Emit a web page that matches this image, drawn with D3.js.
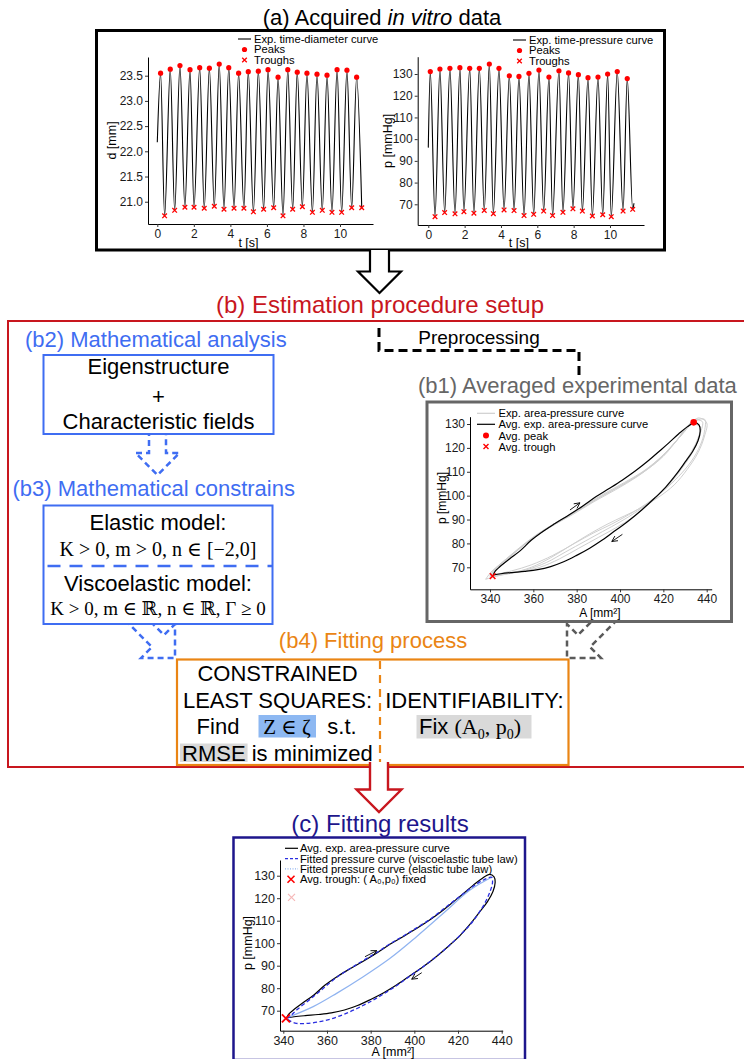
<!DOCTYPE html>
<html><head><meta charset="utf-8">
<script src="https://cdn.jsdelivr.net/npm/d3@7"></script>
<style>body{margin:0;background:#fff}svg{display:block}</style>
</head><body><svg id="fig" width="744" height="1059"></svg>
<script>
// ---------------- DATA ----------------
const diamStart = [0.0, 22.18];
const diamPeaks = [[0.18,23.55],[0.71,23.63],[1.24,23.70],[1.79,23.62],[2.32,23.66],[2.85,23.65],[3.39,23.73],[3.91,23.66],[4.45,23.55],[4.98,23.58],[5.53,23.59],[6.06,23.62],[6.61,23.47],[7.14,23.62],[7.66,23.57],[8.19,23.55],[8.74,23.53],[9.29,23.51],[9.84,23.62],[10.38,23.61],[10.91,23.47]];
const diamTroughs = [[0.40,20.72],[0.95,20.83],[1.51,20.89],[2.01,20.89],[2.57,20.87],[3.12,20.91],[3.65,20.85],[4.20,20.87],[4.74,20.87],[5.26,20.80],[5.82,20.85],[6.37,20.88],[6.88,20.72],[7.41,20.85],[7.94,20.90],[8.49,20.79],[9.03,20.83],[9.56,20.79],[10.09,20.79],[10.64,20.88],[11.19,20.88]];
const presStart = [0.0, 96.1];
const presEnd = [11.32, 70.5];
const presPeaks = [[0.11,131.1],[0.64,132.3],[1.19,132.6],[1.74,132.9],[2.28,132.6],[2.81,132.6],[3.36,134.6],[3.89,132.6],[4.46,129.2],[4.99,128.9],[5.54,130.3],[6.09,131.8],[6.64,128.6],[7.19,131.5],[7.72,130.5],[8.26,129.7],[8.79,128.3],[9.34,128.6],[9.87,130.0],[10.40,131.1],[10.95,127.9]];
const presTroughs = [[0.37,64.3],[0.90,66.2],[1.47,65.6],[1.96,66.6],[2.51,65.9],[3.08,67.2],[3.58,65.7],[4.17,67.4],[4.72,67.1],[5.27,64.8],[5.80,65.4],[6.35,66.9],[6.84,64.8],[7.41,66.3],[7.96,67.9],[8.48,66.9],[9.03,64.6],[9.60,65.2],[10.07,64.3],[10.72,66.9],[11.25,67.7]];

const timeTicks = [0,2,4,6,8,10];
const diamTicks = [21.0,21.5,22.0,22.5,23.0,23.5];
const presTicks = [70,80,90,100,110,120,130];
const areaTicks = [340,360,380,400,420,440];

const avgLoop = [[341.5,66.8],[342.5,68.5],[344.5,70.2],[349,73.5],[354,77],[359,81.3],[364.4,85],[370,88.3],[376.6,92],[383,95.8],[389,99.6],[395,103],[401,106.5],[407,110.3],[413.3,114.8],[418,118.5],[422.4,122],[427,125.8],[431,128.8],[434.5,130.6],[436.5,129.5],[437,127],[436,123],[433.5,118.5],[430,114],[426,109],[421,103.5],[416,99],[410,94],[404,89.5],[398,85.5],[392,81.5],[386,78],[380,75],[374,72.3],[368,70.3],[362,69],[356,68.3],[350,67.8],[345,67.3],[341.5,66.8]];
const expLoop1 = [[340,66],[342,69],[350,75],[360,82.5],[370,88.5],[380,93.5],[390,99],[400,104],[410,109.5],[420,117],[428,125],[434,131.5],[438,131],[437,126],[434,119],[429,112],[423,105],[416,99],[408,93.5],[400,89],[392,85],[384,81],[375,76.5],[366,72],[357,69],[348,67.3],[340,66]];
const expLoop2 = [[341,67],[344,70.5],[352,77],[362,84],[372,89.5],[382,95],[392,100.5],[402,105.5],[412,111],[421,118],[429,126],[436,132.5],[440,130.5],[439,125],[436,118],[431,111],[425,104.5],[418,99.5],[410,95],[402,91.5],[394,88],[386,84],[377,79],[368,74],[359,70],[349,67.5],[341,67]];
const expLoop3 = [[338,65],[341,68.5],[348,73.5],[358,81],[368,87],[378,92],[388,97.5],[398,102.5],[408,108],[418,115],[426,123],[432,129.5],[437,129],[435.5,123],[432,117],[427,110],[421,103],[414,97],[406,91],[398,86.5],[390,82.5],[381,78],[372,73.5],[363,70],[353,68],[344,66.5],[338,65]];
const expLoop4 = [[340,66.5],[343,70],[351,76],[361,83],[371,88.5],[381,94],[391,99.5],[401,104.5],[411,110],[420,116.5],[427,124],[433,130.5],[439,132],[439,127],[437,121],[433,114.5],[427,108],[420,102],[412,96.5],[404,92],[396,88],[388,84.5],[379,80],[369,75],[359,71],[350,68.5],[340,66.5]];
const avgPeak = [434.0, 130.7];
const avgTrough = [341.2, 66.3];
const b1Arrows = [[[376.9,94.0],[381.5,97.0]],[[401.1,83.8],[396.2,80.8]]];

const viscoFit = [[341.5,66.8],[343.1,67.2],[344,68.3],[346.1,70.3],[353.7,76.2],[359,80.5],[364.4,84.8],[370,88.4],[376.6,92.3],[383,96],[389,99.8],[395,103.2],[401,106.8],[407,110.5],[413.3,115.2],[418,118.7],[422.4,122],[427,125.3],[431.6,128.1],[435.4,129.3],[435.8,127],[434.5,122.5],[432,117.3],[429,112.7],[425.5,108.2],[421,103.6],[416,99],[410,94],[404,89.5],[398,85.4],[392,81.2],[386,77.5],[380,74.1],[374,71.1],[368,68.5],[362,66.4],[356,65],[350,64.3],[346,64.4],[343,65.5],[341.5,66.8]];
const elasticFit = [[341.5,66.8],[353.7,71.8],[364.4,77.7],[376.6,85.1],[388.9,93.3],[401,102.9],[413.3,113.3],[425.5,123.6],[435.4,129.3]];
const cTrough = [341.2, 66.6];
const cArrows = [[[377.4,94.0],[382.8,96.7]],[[403.4,86.9],[398.8,84.0]]];

const legendA1 = ["Exp. time-diameter curve","Peaks","Troughs"];
const legendA2 = ["Exp. time-pressure curve","Peaks","Troughs"];
const legendB1 = ["Exp. area-pressure curve","Avg. exp. area-pressure curve","Avg. peak","Avg. trough"];
const legendC = ["Avg. exp. area-pressure curve","Fitted pressure curve (viscoelastic tube law)","Fitted pressure curve (elastic tube law)","Avg. trough: ( A₀,p₀) fixed"];

// ---------------- HELPERS ----------------
const SANS = "'Liberation Sans', Arial, Helvetica, sans-serif";
const SERIF = "'Liberation Serif', 'DejaVu Serif', 'Times New Roman', serif";
const RED = "#c8161e", BLUE = "#3f6df2", ORANGE = "#ea8514", GRAY = "#666666", NAVY = "#1e168c";
const LEGFS = 11.2;
const svg = d3.select("#fig");
svg.append("defs").append("marker").attr("id","ah").attr("viewBox","0 0 10 10").attr("refX",9).attr("refY",5)
  .attr("markerWidth",7).attr("markerHeight",7).attr("markerUnits","userSpaceOnUse").attr("orient","auto")
  .append("path").attr("d","M1,1 L9,5 L1,9").attr("fill","none").attr("stroke","#000").attr("stroke-width",1.2);

function txt(g, x, y, s, o={}) {
  return g.append("text").attr("x",x).attr("y",y).attr("dy","0.35em")
    .attr("text-anchor",o.anchor||"middle").attr("font-family",o.family||SANS)
    .attr("font-size",o.fs||12).attr("fill",o.fill||"#000")
    .attr("font-style",o.style||null).text(s);
}
function panel(g, o) {
  const x = d3.scaleLinear().domain(o.xd).range([o.left,o.right]);
  const y = d3.scaleLinear().domain(o.yd).range([o.bottom,o.top]);
  const xa = g.append("g").attr("transform",`translate(0,${o.bottom})`)
    .call(d3.axisBottom(x).tickValues(o.xt).tickSize(3).tickSizeOuter(0).tickPadding(2));
  const ya = g.append("g").attr("transform",`translate(${o.left},0)`)
    .call(d3.axisLeft(y).tickValues(o.yt).tickFormat(o.yf||d3.format("d")).tickSize(3).tickSizeOuter(0).tickPadding(2));
  [xa,ya].forEach(a=>{
    a.attr("font-family",SANS).attr("font-size",o.fs);
    a.selectAll("text").attr("fill","#1a1a1a");
    a.select(".domain").attr("stroke","#000").attr("stroke-width",1);
    a.selectAll(".tick line").attr("stroke","#333");
  });
  return {x,y};
}
function cross(g, cx, cy, s, col, w) {
  g.append("path").attr("d",`M${cx-s},${cy-s}L${cx+s},${cy+s}M${cx-s},${cy+s}L${cx+s},${cy-s}`)
    .attr("stroke",col).attr("stroke-width",w).attr("fill","none");
}
function hollowArrow(g, tx, ty, ang, w, h, L, st) {
  const d = `M${-w},${-L}V${-h}H${-h}L0,0L${h},${-h}H${w}V${-L}`;
  g.append("path").attr("d",d).attr("transform",`translate(${tx},${ty}) rotate(${ang})`)
    .attr("fill","#fff").attr("stroke",st.col).attr("stroke-width",st.w)
    .attr("stroke-dasharray",st.dash||null).attr("stroke-linejoin","miter");
}

// ---------------- (a) ----------------
const gA = svg.append("g");
txt(gA, 382, 17, null, {fs:22}).call(t=>{
  t.append("tspan").text("(a) Acquired ");
  t.append("tspan").attr("font-style","italic").text("in vitro");
  t.append("tspan").text(" data");
});
hollowArrow(svg, 379.5, 293, 0, 9.5, 21.5, 43, {col:"#000", w:2.2});
gA.append("rect").attr("x",96.5).attr("y",30.5).attr("width",568).attr("height",219.5)
  .attr("fill","#fff").attr("stroke","#000").attr("stroke-width",3);

function timePanel(o, start, peaks, troughs, end, legend) {
  const g = svg.append("g");
  const {x,y} = panel(g, o);
  const seq = [start];
  peaks.forEach((p,i)=>{ seq.push(p); seq.push(troughs[i]); });
  if (end) seq.push(end);
  g.append("path").datum(seq).attr("fill","none").attr("stroke","#000").attr("stroke-width",1.1)
    .attr("d", d3.line().x(d=>x(d[0])).y(d=>y(d[1])).curve(d3.curveMonotoneX));
  g.selectAll(".pk").data(peaks).join("circle").attr("cx",d=>x(d[0])).attr("cy",d=>y(d[1])).attr("r",2.6).attr("fill","#ff0000");
  troughs.forEach(d=>cross(g, x(d[0]), y(d[1]), 2.3, "#ff0000", 1.3));
  const lx = o.legX;
  g.append("line").attr("x1",lx).attr("x2",lx+13).attr("y1",o.legY).attr("y2",o.legY).attr("stroke","#000").attr("stroke-width",1.1);
  g.append("circle").attr("cx",lx+6.5).attr("cy",o.legY+10.5).attr("r",2.6).attr("fill","#ff0000");
  cross(g, lx+6.5, o.legY+21, 2.3, "#ff0000", 1.3);
  legend.forEach((s,i)=>txt(g, lx+16, o.legY+i*10.5, s, {anchor:"start", fs:LEGFS}));
  txt(g, (o.left+o.right)/2-12, 243, "t [s]", {fs:12.5});
  txt(g, 0, 0, o.ylab, {fs:12.5}).attr("transform",`translate(${o.ylabX},${(o.top+o.bottom)/2}) rotate(-90)`);
}
timePanel({left:148,right:373,top:57,bottom:224,xd:[-0.509,11.806],yd:[20.558,23.871],xt:timeTicks,yt:diamTicks,yf:d3.format(".1f"),fs:12,legX:238,legY:39,ylabX:112,ylab:"d [mm]"},
  diamStart, diamPeaks, diamTroughs, null, legendA1);
timePanel({left:417.7,right:644,top:56.7,bottom:225,xd:[-0.583,11.872],yd:[60.47,137.97],xt:timeTicks,yt:presTicks,fs:12,legX:513,legY:40,ylabX:388,ylab:"p [mmHg]"},
  presStart, presPeaks, presTroughs, presEnd, legendA2);

// ---------------- (b) ----------------
const gB = svg.append("g");
txt(gB, 380, 305, "(b) Estimation procedure setup", {fs:24, fill:RED});
hollowArrow(svg, 379, 812, 0, 9, 22.5, 50, {col:RED, w:2.4});
gB.append("rect").attr("x",8).attr("y",321).attr("width",760).attr("height",446)
  .attr("fill","#fff").attr("stroke",RED).attr("stroke-width",2);

gB.append("path").attr("d","M379,328V350.5H579V376").attr("fill","none").attr("stroke","#000")
  .attr("stroke-width",3).attr("stroke-dasharray","9,5");
txt(gB, 479, 337, "Preprocessing", {fs:19});

hollowArrow(gB, 157.5, 475, 0, 8.5, 22, 45, {col:BLUE, w:2.5, dash:"6,4"});
hollowArrow(gB, 175, 658, -45, 8.5, 24, 62, {col:BLUE, w:2.5, dash:"6,4"});
hollowArrow(gB, 567, 658, 45, 8.5, 24, 62, {col:"#5a5a5a", w:2.5, dash:"6,4"});

// b2
txt(gB, 25, 339, "(b2) Mathematical analysis", {anchor:"start", fs:22, fill:BLUE});
gB.append("rect").attr("x",43.5).attr("y",355).attr("width",230).attr("height",79)
  .attr("fill","#fff").attr("stroke",BLUE).attr("stroke-width",2);
txt(gB, 158.5, 366.5, "Eigenstructure", {fs:22});
txt(gB, 158.5, 396, "+", {fs:22});
txt(gB, 158.5, 421, "Characteristic fields", {fs:22});

// b3
txt(gB, 12.5, 488.5, "(b3) Mathematical constrains", {anchor:"start", fs:22, fill:BLUE});
gB.append("rect").attr("x",43.5).attr("y",505.5).attr("width",229).attr("height",118.5)
  .attr("fill","#fff").attr("stroke",BLUE).attr("stroke-width",2);
gB.append("line").attr("x1",43.5).attr("x2",272.5).attr("y1",566).attr("y2",566)
  .attr("stroke",BLUE).attr("stroke-width",2.5).attr("stroke-dasharray","13,9").attr("stroke-dashoffset",-4);
txt(gB, 158, 522, "Elastic model:", {fs:22});
txt(gB, 158, 548.5, "K > 0, m > 0, n ∈ [−2,0]", {fs:20, family:SERIF});
txt(gB, 158, 583, "Viscoelastic model:", {fs:22});
txt(gB, 158, 608.5, "K > 0, m ∈ ℝ, n ∈ ℝ, Γ ≥ 0", {fs:19, family:SERIF});

// b1
txt(gB, 418, 385, "(b1) Averaged experimental data", {anchor:"start", fs:22, fill:GRAY});
gB.append("rect").attr("x",427).attr("y",402).attr("width",304.5).attr("height",219.5)
  .attr("fill","#fff").attr("stroke",GRAY).attr("stroke-width",3);
{
  const g = gB.append("g");
  const {x,y} = panel(g, {left:470,right:711.7,top:416.7,bottom:589.3,xd:[330.77,442.31],yd:[60.79,133.06],xt:areaTicks,yt:presTicks,fs:12});
  const ln = d3.line().x(d=>x(d[0])).y(d=>y(d[1])).curve(d3.curveCatmullRom);
  [expLoop1,expLoop2,expLoop3,expLoop4].forEach(L=>g.append("path").datum(L).attr("d",ln)
    .attr("fill","none").attr("stroke","#cfcfcf").attr("stroke-width",1));
  g.append("path").datum(avgLoop).attr("d",ln).attr("fill","none").attr("stroke","#000").attr("stroke-width",1.2);
  g.append("circle").attr("cx",x(avgPeak[0])).attr("cy",y(avgPeak[1])).attr("r",3.3).attr("fill","#ff0000");
  cross(g, x(avgTrough[0]), y(avgTrough[1]), 2.8, "#ff0000", 1.5);
  b1Arrows.forEach(a=>g.append("line").attr("x1",x(a[0][0])).attr("y1",y(a[0][1])).attr("x2",x(a[1][0])).attr("y2",y(a[1][1]))
    .attr("stroke","#000").attr("stroke-width",0.9).attr("marker-end","url(#ah)"));
  const lx=477, ly=413.3;
  g.append("line").attr("x1",lx).attr("x2",lx+18).attr("y1",ly).attr("y2",ly).attr("stroke","#cfcfcf").attr("stroke-width",1.2);
  g.append("line").attr("x1",lx).attr("x2",lx+18).attr("y1",ly+11).attr("y2",ly+11).attr("stroke","#000").attr("stroke-width",1.2);
  g.append("circle").attr("cx",lx+9).attr("cy",ly+22.3).attr("r",3).attr("fill","#ff0000");
  cross(g, lx+9, ly+33.3, 2.5, "#ff0000", 1.4);
  legendB1.forEach((s,i)=>txt(g, lx+21.5, ly+[0,11,22.3,33.3][i], s, {anchor:"start", fs:LEGFS}));
  txt(g, 600, 613, "A [mm²]", {fs:12});
  txt(g, 0, 0, "p [mmHg]", {fs:12}).attr("transform",`translate(441.5,498) rotate(-90)`);
}

// b4
txt(gB, 373, 640.5, "(b4) Fitting process", {fs:22, fill:ORANGE});
gB.append("rect").attr("x",177).attr("y",659.5).attr("width",391.5).attr("height",105.5)
  .attr("fill","#fff").attr("stroke",ORANGE).attr("stroke-width",2.2);
gB.append("line").attr("x1",380).attr("x2",380).attr("y1",661).attr("y2",764)
  .attr("stroke",ORANGE).attr("stroke-width",2.2).attr("stroke-dasharray","8,6");
gB.append("rect").attr("x",258.5).attr("y",715).attr("width",57.5).attr("height",22.5).attr("fill","#8db8f2");
gB.append("rect").attr("x",416.5).attr("y",715).attr("width",115).attr("height",23.5).attr("fill","#d9d9d9");
txt(gB, 277.5, 673.5, "CONSTRAINED", {fs:22});
txt(gB, 277.5, 700, "LEAST SQUARES:", {fs:22});
txt(gB, 218, 726.5, "Find", {fs:22});
txt(gB, 287, 726.5, "Z ∈ ζ", {fs:21, family:SERIF});
txt(gB, 342, 726.5, "s.t.", {fs:22});
{
  const t = txt(gB, 182, 753, null, {anchor:"start", fs:22});
  const r = gB.insert("rect", ()=>t.node()).attr("y",743.5).attr("height",18.5).attr("fill","#d9d9d9").attr("x",180);
  const s1 = t.append("tspan").text("RMSE");
  t.append("tspan").text(" is minimized");
  r.attr("width", s1.node().getComputedTextLength()+4);
}
txt(gB, 474.5, 700, "IDENTIFIABILITY:", {fs:22});
txt(gB, 419, 726.5, null, {anchor:"start", fs:22}).call(t=>{
  t.append("tspan").text("Fix ");
  t.append("tspan").attr("font-family",SERIF).text("(A");
  t.append("tspan").attr("font-family",SERIF).attr("font-size",14).attr("dy",5).text("0");
  t.append("tspan").attr("font-family",SERIF).attr("dy",-5).text(", p");
  t.append("tspan").attr("font-family",SERIF).attr("font-size",14).attr("dy",5).text("0");
  t.append("tspan").attr("font-family",SERIF).attr("dy",-5).text(")");
});

// ---------------- (c) ----------------
const gC = svg.append("g");
txt(gC, 380, 824, "(c) Fitting results", {fs:24, fill:NAVY});
gC.append("rect").attr("x",233.5).attr("y",837.5).attr("width",291.5).attr("height",222.5)
  .attr("fill","#fff").attr("stroke",NAVY).attr("stroke-width",2.5);
{
  const g = gC.append("g");
  const {x,y} = panel(g, {left:280,right:502.7,top:860,bottom:1030.7,xd:[338.49,440.46],yd:[61.11,136.98],xt:areaTicks,yt:presTicks,fs:12.5});
  const ln = d3.line().x(d=>x(d[0])).y(d=>y(d[1])).curve(d3.curveCatmullRom);
  g.append("path").datum(avgLoop).attr("d",ln).attr("fill","none").attr("stroke","#000").attr("stroke-width",1.2);
  g.append("path").datum(elasticFit).attr("d",ln).attr("fill","none").attr("stroke","#8fb3f0").attr("stroke-width",1.2);
  g.append("path").datum(viscoFit).attr("d",ln).attr("fill","none").attr("stroke","#2a2ee0").attr("stroke-width",1.3).attr("stroke-dasharray","4,2.5");
  cross(g, x(cTrough[0]), y(cTrough[1]), 4, "#ff0000", 1.8);
  cArrows.forEach(a=>g.append("line").attr("x1",x(a[0][0])).attr("y1",y(a[0][1])).attr("x2",x(a[1][0])).attr("y2",y(a[1][1]))
    .attr("stroke","#000").attr("stroke-width",0.9).attr("marker-end","url(#ah)"));
  const lx=285, ly=848.3;
  g.append("line").attr("x1",lx).attr("x2",lx+13).attr("y1",ly).attr("y2",ly).attr("stroke","#000").attr("stroke-width",1.2);
  g.append("line").attr("x1",lx).attr("x2",lx+13).attr("y1",ly+10.3).attr("y2",ly+10.3).attr("stroke","#2a2ee0").attr("stroke-width",1.3).attr("stroke-dasharray","3,2");
  g.append("line").attr("x1",lx).attr("x2",lx+13).attr("y1",ly+20.6).attr("y2",ly+20.6).attr("stroke","#8fb3f0").attr("stroke-width",1.3).attr("stroke-dasharray","1,1.5");
  cross(g, lx+6, ly+30.9, 3.5, "#ff0000", 1.6);
  cross(g, lx+6.5, 897.3, 3.5, "#f6b8b8", 1.2);
  legendC.forEach((s,i)=>txt(g, lx+15, ly+i*10.3, s, {anchor:"start", fs:LEGFS}));
  txt(g, 393, 1052, "A [mm²]", {fs:12.5});
  txt(g, 0, 0, "p [mmHg]", {fs:12.5}).attr("transform",`translate(248,943) rotate(-90)`);
}
</script></body></html>
